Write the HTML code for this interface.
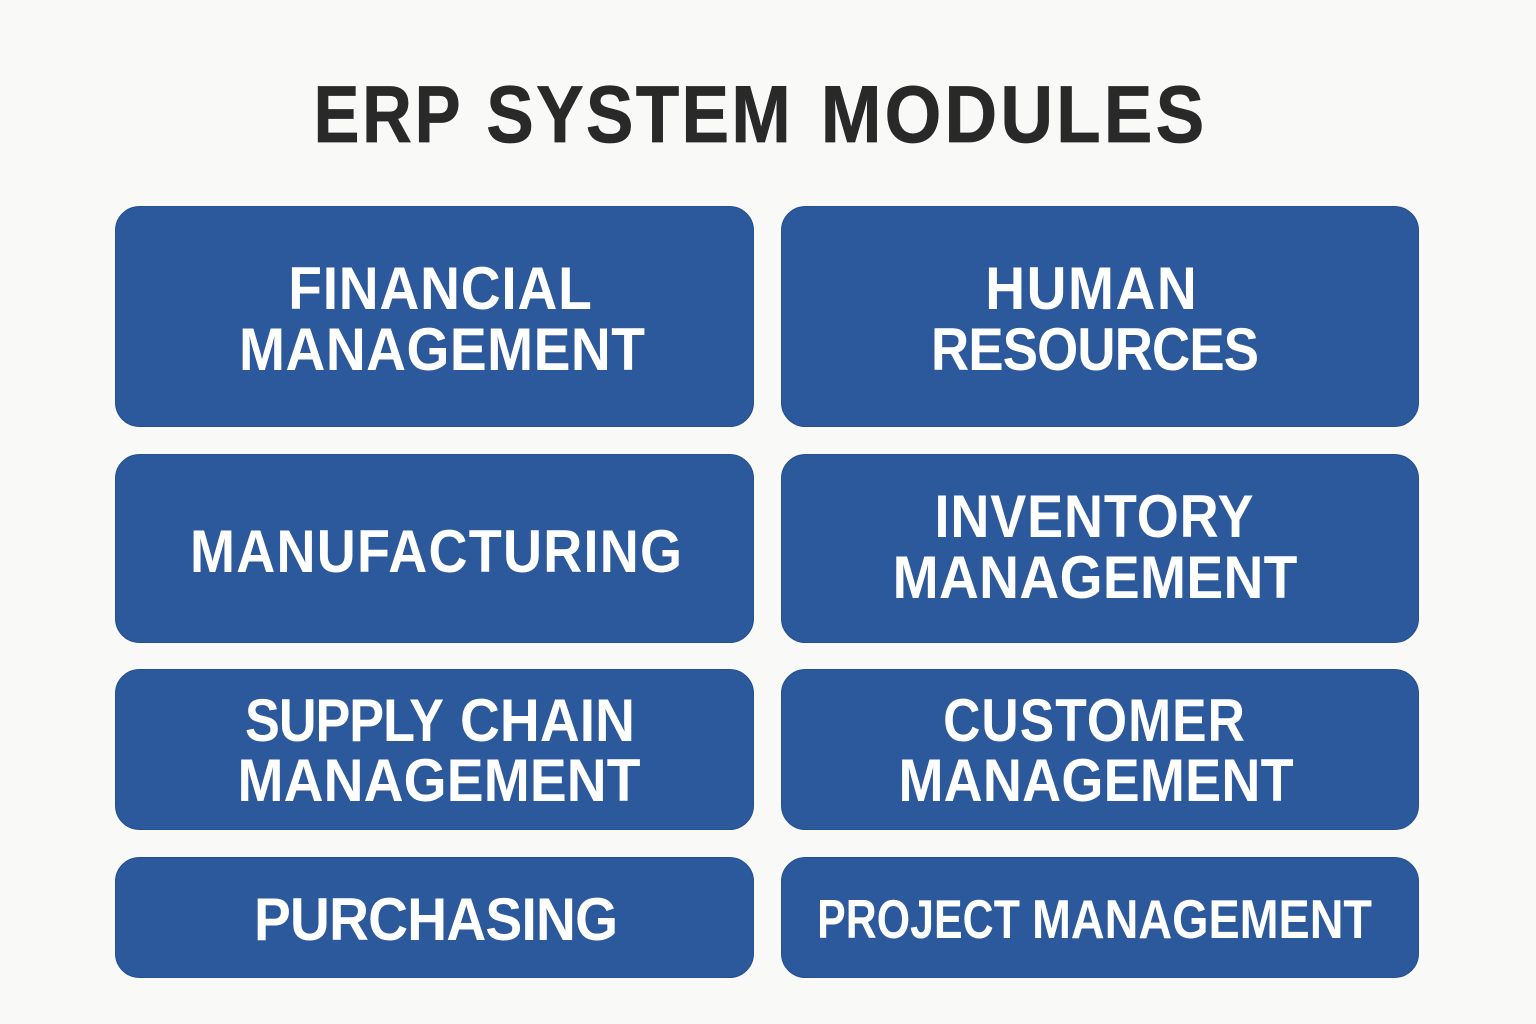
<!DOCTYPE html>
<html>
<head>
<meta charset="utf-8">
<style>
html,body{margin:0;padding:0;width:1536px;height:1024px;overflow:hidden;background:#f9f9f8;}
svg{display:block;}
text{font-family:"Liberation Sans",sans-serif;font-weight:700;text-anchor:middle;}
.t{fill:#fff;font-size:60px;}
.h{fill:#292929;stroke:#292929;stroke-width:.7px;font-size:81px;}
</style>
</head>
<body>
<svg width="1536" height="1024" viewBox="0 0 1536 1024" xmlns="http://www.w3.org/2000/svg">
<rect width="1536" height="1024" fill="#f9f9f8"/>
<text class="h" transform="translate(387,142) scale(.85,1)" textLength="173" lengthAdjust="spacing">ERP</text>
<text class="h" transform="translate(638.5,142) scale(.88,1)" textLength="346" lengthAdjust="spacing">SYSTEM</text>
<text class="h" transform="translate(1012.5,142) scale(.9,1)" textLength="426" lengthAdjust="spacing">MODULES</text>
<g fill="#2c599c" stroke="#254f90" stroke-width="1">
<rect x="115.5" y="206.5" width="638" height="220" rx="24"/>
<rect x="781.5" y="206.5" width="637" height="220" rx="24"/>
<rect x="115.5" y="454.5" width="638" height="188" rx="24"/>
<rect x="781.5" y="454.5" width="637" height="188" rx="24"/>
<rect x="115.5" y="669.5" width="638" height="160" rx="24"/>
<rect x="781.5" y="669.5" width="637" height="160" rx="24"/>
<rect x="115.5" y="857.5" width="638" height="120" rx="24"/>
<rect x="781.5" y="857.5" width="637" height="120" rx="24"/>
</g>
<g>
<text class="t" transform="translate(440,309) scale(.92,1)" textLength="330" lengthAdjust="spacing">FINANCIAL</text>
<text class="t" transform="translate(442,370) scale(.92,1)" textLength="441.3" lengthAdjust="spacing">MANAGEMENT</text>
<text class="t" transform="translate(1091,309) scale(.92,1)" textLength="230" lengthAdjust="spacing">HUMAN</text>
<text class="t" transform="translate(1095,370) scale(.88,1)" textLength="372.7" lengthAdjust="spacing">RESOURCES</text>
<text class="t" transform="translate(436,572) scale(.9,1)" textLength="546.7" lengthAdjust="spacing">MANUFACTURING</text>
<text class="t" transform="translate(1094,537) scale(.9,1)" textLength="354.4" lengthAdjust="spacing">INVENTORY</text>
<text class="t" transform="translate(1095,598) scale(.92,1)" textLength="440" lengthAdjust="spacing">MANAGEMENT</text>
<text class="t" transform="translate(344.5,741) scale(.87,1)" textLength="228.7" lengthAdjust="spacing">SUPPLY</text>
<text class="t" transform="translate(547.5,741) scale(.92,1)" textLength="190.2" lengthAdjust="spacing">CHAIN</text>
<text class="t" transform="translate(439,801) scale(.92,1)" textLength="438" lengthAdjust="spacing">MANAGEMENT</text>
<text class="t" transform="translate(1094,741) scale(.86,1)" textLength="351" lengthAdjust="spacing">CUSTOMER</text>
<text class="t" transform="translate(1096,801) scale(.9,1)" textLength="439" lengthAdjust="spacing">MANAGEMENT</text>
<text class="t" transform="translate(436,940) scale(.92,1)" textLength="395.7" lengthAdjust="spacing">PURCHASING</text>
<text class="t" transform="translate(918.5,938) scale(.78,1)" textLength="260" lengthAdjust="spacing" style="font-size:55px">PROJECT</text>
<text class="t" transform="translate(1202,938) scale(.85,1)" textLength="400" lengthAdjust="spacing" style="font-size:55px">MANAGEMENT</text>
</g>
</svg>
</body>
</html>
